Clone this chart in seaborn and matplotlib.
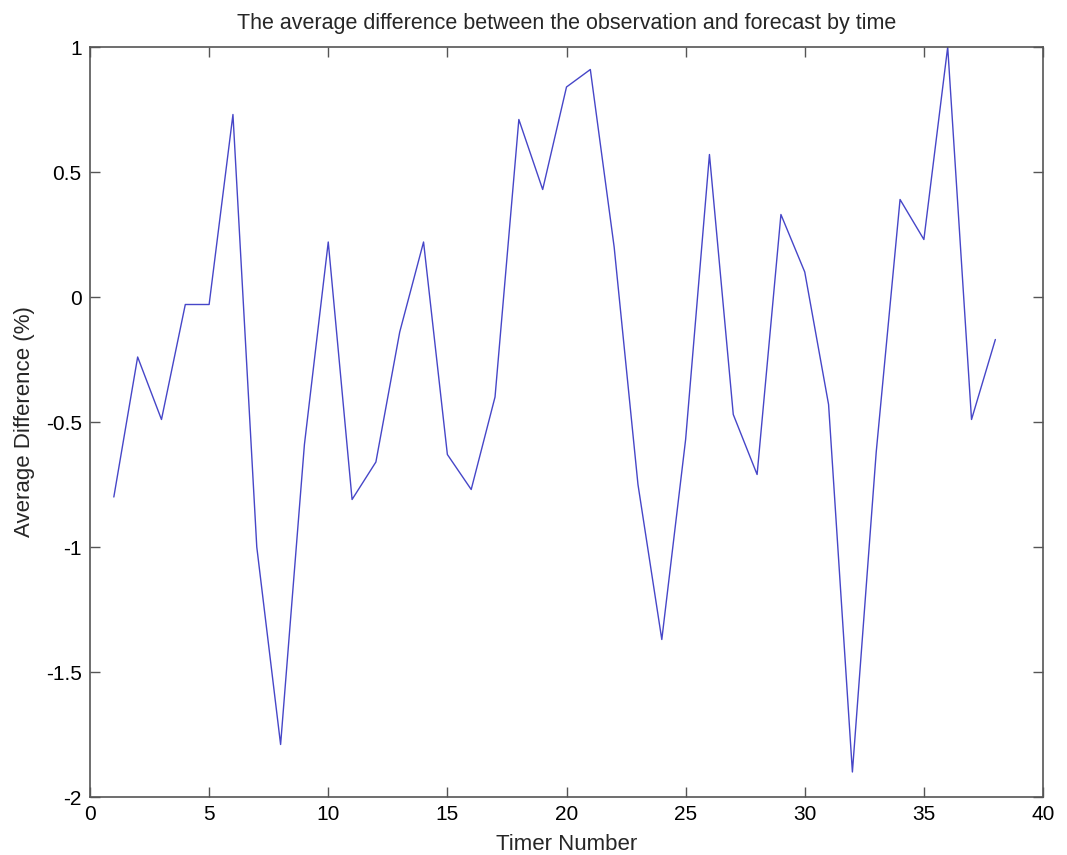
import seaborn as sns
import matplotlib.pyplot as plt
import pandas as pd

timer = list(range(1, 39))
avg_diff = [
    -0.80, -0.24, -0.49, -0.03, -0.03, 0.73, -1.00, -1.79, -0.59, 0.22,
    -0.81, -0.66, -0.14, 0.22, -0.63, -0.77, -0.40, 0.71, 0.43, 0.84,
    0.91, 0.20, -0.75, -1.37, -0.57, 0.57, -0.47, -0.71, 0.33, 0.10,
    -0.43, -1.90, -0.62, 0.39, 0.23, 1.00, -0.49, -0.17,
]

data = pd.DataFrame({"timer": timer, "diff": avg_diff})

sns.set_style("ticks")
plt.rcParams["font.family"] = ["Liberation Sans", "DejaVu Sans"]
plt.rcParams["axes.unicode_minus"] = False

fig = plt.figure(figsize=(10.67, 8.55), dpi=100)
ax = fig.add_axes([90 / 1067, 1 - 797 / 855, (1043 - 90) / 1067, (797 - 47) / 855])

sns.lineplot(data, x="timer", y="diff", ax=ax, color="#4646c8", linewidth=1.0)

ax.set_xlim(0, 40)
ax.set_ylim(-2, 1)
ax.set_xticks(range(0, 41, 5))
ax.set_yticks([-2, -1.5, -1, -0.5, 0, 0.5, 1])
ax.set_yticklabels(["-2", "-1.5", "-1", "-0.5", "0", "0.5", "1"])

for s in ax.spines.values():
    s.set_visible(True)
    s.set_color("#555555")
    s.set_linewidth(1.2)
ax.tick_params(direction="in", length=7, width=1, colors="#555555",
               top=True, right=True, labelsize=15, labelcolor="black", pad=6)

ax.set_title("The average difference between the observation and forecast by time",
             fontsize=15.5, pad=13)
ax.set_xlabel("Timer Number", fontsize=16, labelpad=7)
ax.set_ylabel("Average Difference (%)", fontsize=16, labelpad=8)

plt.savefig("out.png", dpi=100)
